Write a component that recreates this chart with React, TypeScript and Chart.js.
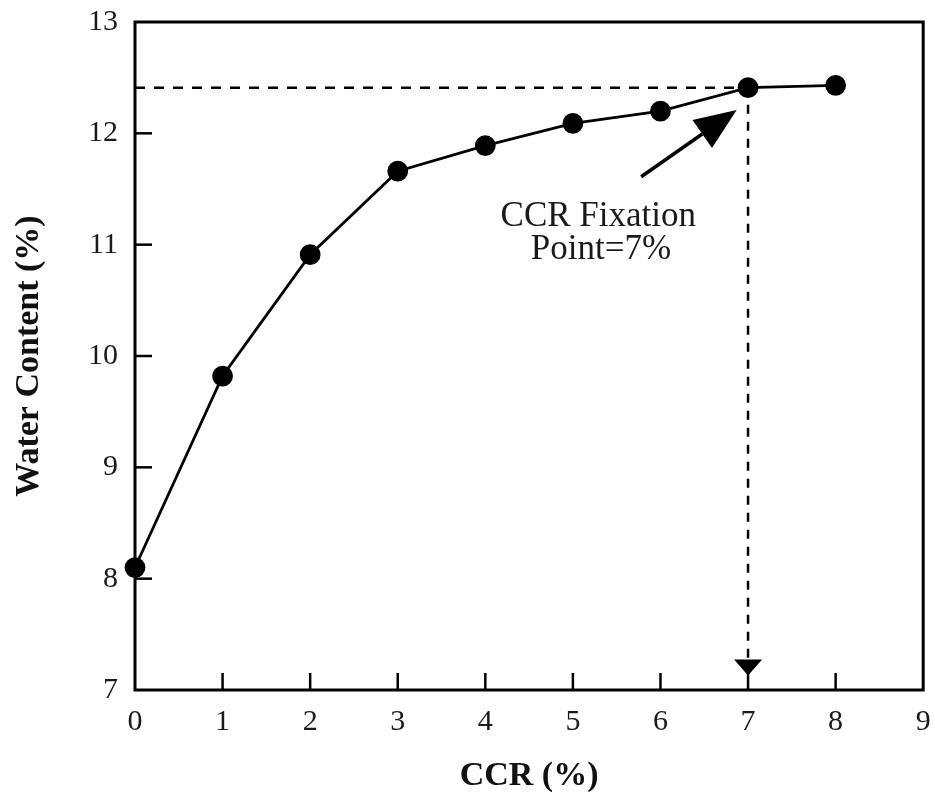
import React, { useEffect, useRef } from "react";
import { Chart, registerables } from "chart.js";

Chart.register(...registerables);

const ccr = [0, 1, 2, 3, 4, 5, 6, 7, 8];
const waterContent = [8.1, 9.82, 10.91, 11.66, 11.89, 12.09, 12.2, 12.41, 12.43];
const xTickValues = [0, 1, 2, 3, 4, 5, 6, 7, 8, 9];
const yTickValues = [7, 8, 9, 10, 11, 12, 13];
const fixationX = 7;
const fixationY = 12.41;
const verticalArrowTipY = 7.13;
const pointerTail = { x: 5.78, y: 11.61 };
const pointerTip = { x: 6.87, y: 12.21 };
const annotationLines = ["CCR Fixation", "Point=7%"];
const annotationPos = [
  { x: 5.29, y: 11.25 },
  { x: 5.32, y: 10.95 },
];

const SERIF = "'Liberation Serif', 'Times New Roman', serif";

const decorPlugin = {
  id: "decor",
  beforeDatasetsDraw(chart: any) {
    const { ctx, chartArea, scales } = chart;
    const xs = scales.x;
    const ys = scales.y;
    ctx.save();
    ctx.strokeStyle = "#000";
    ctx.lineWidth = 3;
    ctx.strokeRect(chartArea.left, chartArea.top, chartArea.right - chartArea.left, chartArea.bottom - chartArea.top);
    ctx.lineWidth = 2.5;
    const tl = 17;
    xTickValues.slice(1, -1).forEach((v) => {
      const px = xs.getPixelForValue(v);
      ctx.beginPath();
      ctx.moveTo(px, chartArea.bottom);
      ctx.lineTo(px, chartArea.bottom - tl);
      ctx.stroke();
    });
    yTickValues.slice(1, -1).forEach((v) => {
      const py = ys.getPixelForValue(v);
      ctx.beginPath();
      ctx.moveTo(chartArea.left, py);
      ctx.lineTo(chartArea.left + tl, py);
      ctx.stroke();
    });
    ctx.restore();
  },
  afterDatasetsDraw(chart: any) {
    const { ctx, scales } = chart;
    const xs = scales.x;
    const ys = scales.y;
    ctx.save();
    ctx.fillStyle = "#000";
    ctx.strokeStyle = "#000";
    // vertical arrowhead
    const vx = xs.getPixelForValue(fixationX);
    const vy = ys.getPixelForValue(verticalArrowTipY);
    ctx.beginPath();
    ctx.moveTo(vx, vy);
    ctx.lineTo(vx - 14, vy - 16);
    ctx.lineTo(vx + 14, vy - 16);
    ctx.closePath();
    ctx.fill();
    // pointer arrow
    const tx = xs.getPixelForValue(pointerTail.x);
    const ty = ys.getPixelForValue(pointerTail.y);
    const hx = xs.getPixelForValue(pointerTip.x);
    const hy = ys.getPixelForValue(pointerTip.y);
    const ang = Math.atan2(hy - ty, hx - tx);
    const hl = 42;
    const hw = 17;
    const bx = hx - hl * Math.cos(ang);
    const by = hy - hl * Math.sin(ang);
    ctx.lineWidth = 3.5;
    ctx.beginPath();
    ctx.moveTo(tx, ty);
    ctx.lineTo(bx, by);
    ctx.stroke();
    ctx.beginPath();
    ctx.moveTo(hx, hy);
    ctx.lineTo(bx + hw * Math.sin(ang), by - hw * Math.cos(ang));
    ctx.lineTo(bx - hw * Math.sin(ang), by + hw * Math.cos(ang));
    ctx.closePath();
    ctx.fill();
    // annotation text
    ctx.font = `35px ${SERIF}`;
    ctx.fillStyle = "#1a1a1a";
    ctx.textAlign = "center";
    ctx.textBaseline = "middle";
    annotationLines.forEach((t, i) => {
      ctx.fillText(t, xs.getPixelForValue(annotationPos[i].x), ys.getPixelForValue(annotationPos[i].y));
    });
    ctx.restore();
  },
};

export default function App() {
  const ref = useRef<HTMLCanvasElement>(null);
  useEffect(() => {
    if (!ref.current) return;
    const chart = new Chart(ref.current, {
      type: "scatter",
      data: {
        datasets: [
          {
            label: "horizontal guide",
            data: [
              { x: 0, y: fixationY },
              { x: fixationX, y: fixationY },
            ],
            showLine: true,
            borderColor: "#000",
            borderWidth: 2.5,
            borderDash: [10, 9],
            pointRadius: 0,
            clip: false,
          },
          {
            label: "vertical guide",
            data: [
              { x: fixationX, y: fixationY },
              { x: fixationX, y: verticalArrowTipY + 0.05 },
            ],
            showLine: true,
            borderColor: "#000",
            borderWidth: 2.5,
            borderDash: [9, 8],
            pointRadius: 0,
            clip: false,
          },
          {
            label: "Water Content",
            data: ccr.map((x, i) => ({ x, y: waterContent[i] })),
            showLine: true,
            borderColor: "#000",
            borderWidth: 2.8,
            pointRadius: 9,
            pointBackgroundColor: "#000",
            pointBorderColor: "#000",
            clip: false,
          },
        ],
      } as any,
      options: {
        responsive: false,
        animation: false,
        layout: { padding: { top: 22, right: 10, left: 0, bottom: 0 } },
        plugins: { legend: { display: false }, tooltip: { enabled: false } },
        scales: {
          x: {
            type: "linear",
            min: 0,
            max: 9,
            afterBuildTicks: (s: any) => {
              s.ticks = xTickValues.map((v) => ({ value: v }));
            },
            afterFit: (s: any) => {
              s.height = 105;
              s.paddingLeft = 0;
              s.paddingRight = 0;
            },
            grid: { display: false, drawTicks: false },
            border: { display: false },
            ticks: { color: "#1a1a1a", font: { family: SERIF, size: 30 }, padding: 14, maxRotation: 0 },
            title: {
              display: true,
              text: "CCR (%)",
              color: "#111",
              font: { family: SERIF, size: 34, weight: "bold", lineHeight: 1.0 },
              padding: { top: 0, bottom: 2 },
            },
          },
          y: {
            type: "linear",
            min: 7,
            max: 13,
            afterBuildTicks: (s: any) => {
              s.ticks = yTickValues.map((v) => ({ value: v }));
            },
            afterFit: (s: any) => {
              s.width = 135;
              s.paddingTop = 0;
              s.paddingBottom = 0;
            },
            grid: { display: false, drawTicks: false },
            border: { display: false },
            ticks: { color: "#1a1a1a", font: { family: SERIF, size: 30 }, padding: 17 },
            title: {
              display: true,
              text: "Water Content (%)",
              color: "#111",
              font: { family: SERIF, size: 34, weight: "bold", lineHeight: 1.0 },
              padding: { top: 12, bottom: 0 },
            },
          },
        },
      } as any,
      plugins: [decorPlugin],
    });
    return () => chart.destroy();
  }, []);
  return (
    <div style={{ position: "absolute", left: 0, top: 0, width: 935, height: 795, background: "#fff" }}>
      <canvas ref={ref} width={935} height={795} style={{ width: 935, height: 795 }} />
    </div>
  );
}
